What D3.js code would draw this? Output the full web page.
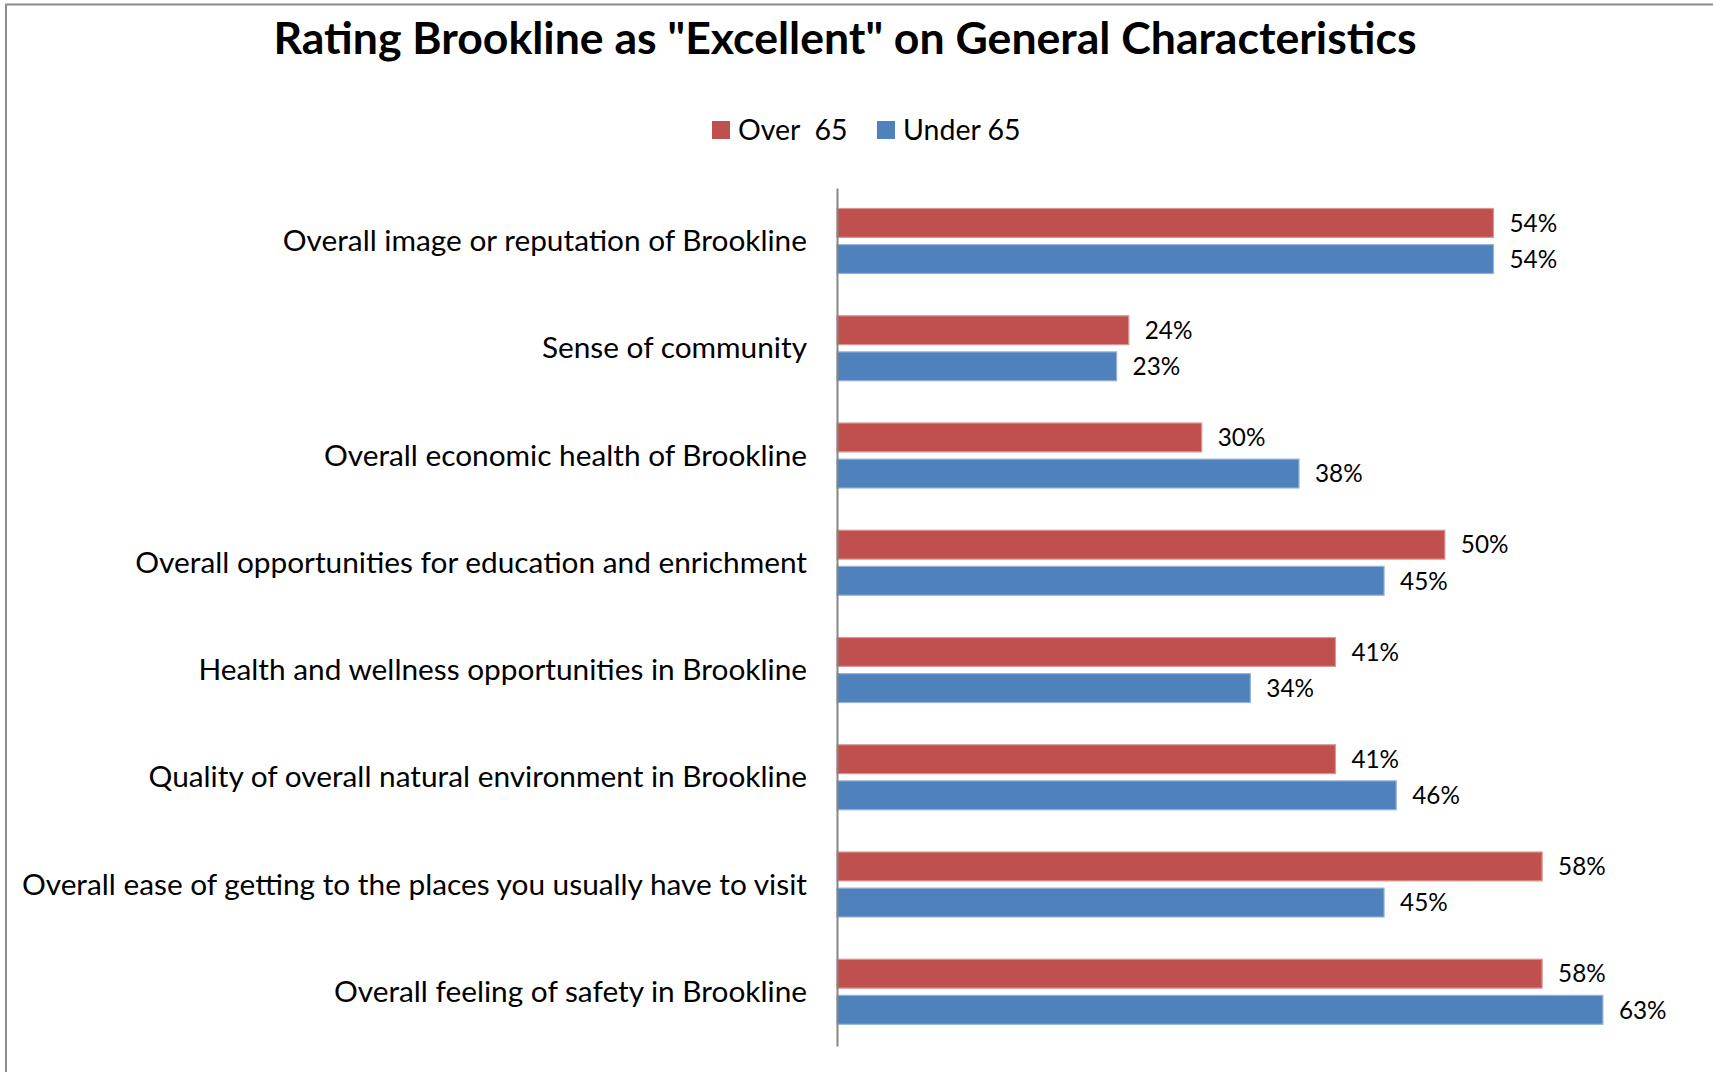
<!DOCTYPE html>
<html>
<head>
<meta charset="utf-8">
<script src="https://cdn.jsdelivr.net/npm/d3@7"></script>
<style>
  html, body { margin: 0; padding: 0; background: #fff; }
  svg { display: block; }
  text { font-family: Lato, "Noto Sans", sans-serif; fill: #000; }
</style>
</head>
<body>
<svg id="chart" width="1713" height="1072"></svg>
<script>
// Survey results: share rating each characteristic "Excellent", by age group
const categories = [
  "Overall image or reputation of Brookline",
  "Sense of community",
  "Overall economic health of Brookline",
  "Overall opportunities for education and enrichment",
  "Health and wellness opportunities in Brookline",
  "Quality of overall natural environment in Brookline",
  "Overall ease of getting to the places you usually have to visit",
  "Overall feeling of safety in Brookline"
];
const seriesNames = ["Over  65", "Under 65"];
const over65 = [0.54, 0.24, 0.30, 0.50, 0.41, 0.41, 0.58, 0.58];
const under65 = [0.54, 0.23, 0.38, 0.45, 0.34, 0.46, 0.45, 0.63];
const seriesValues = [over65, under65];
const colors = ["#C0504D", "#4F81BD"];
const strokes = ["#D99694", "#95B3D7"];

const svg = d3.select("#chart");

// chart area frame
svg.append("rect")
  .attr("x", 6).attr("y", 4.5)
  .attr("width", 1800).attr("height", 1200)
  .attr("fill", "#fff")
  .attr("stroke", "#8c8c8c").attr("stroke-width", 2);

// title
svg.append("text")
  .attr("x", 845).attr("y", 54)
  .attr("text-anchor", "middle")
  .style("font-weight", "bold")
  .style("font-size", "44.6px")
  .text('Rating Brookline as "Excellent" on General Characteristics');

// scales
const x = d3.scaleLinear().domain([0, 0.70]).range([837, 1688]);
const y0 = d3.scaleBand().domain(categories).range([188, 1046]).padding(0);
const y1 = d3.scaleBand().domain(seriesNames).range([20.5, 85.5]).paddingInner(0.2);

// legend
const legend = svg.append("g");
const legendX = [712, 877];
seriesNames.forEach((name, i) => {
  legend.append("rect")
    .attr("x", legendX[i]).attr("y", 121)
    .attr("width", 18).attr("height", 18)
    .attr("fill", colors[i]);
  legend.append("text")
    .attr("x", legendX[i] + 26).attr("y", 140)
    .style("font-size", "28.5px")
    .style("white-space", "pre")
    .text(name);
});

// bars
const groups = svg.append("g").selectAll("g")
  .data(categories)
  .join("g")
  .attr("transform", d => `translate(0,${y0(d)})`);

seriesNames.forEach((name, si) => {
  groups.append("rect")
    .attr("x", x(0))
    .attr("y", y1(name))
    .attr("width", (d, ci) => x(seriesValues[si][ci]) - x(0))
    .attr("height", y1.bandwidth())
    .attr("fill", colors[si])
    .attr("stroke", strokes[si])
    .attr("stroke-width", 1.2);

  groups.append("text")
    .attr("x", (d, ci) => x(seriesValues[si][ci]) + 16)
    .attr("y", y1(name) + y1.bandwidth() / 2)
    .attr("dy", "0.36em")
    .style("font-size", "24.3px")
    .text((d, ci) => d3.format(".0%")(seriesValues[si][ci]));
});

// category axis
const yAxis = d3.axisLeft(y0).tickSize(0).tickPadding(30);
const axisG = svg.append("g")
  .attr("transform", `translate(${x(0)},0)`)
  .call(yAxis);
axisG.select(".domain")
  .attr("stroke", "#868686").attr("stroke-width", 2);
axisG.selectAll(".tick text")
  .style("font-family", "Lato, 'Noto Sans', sans-serif")
  .style("font-size", "29.8px")
  .attr("fill", "#000");
</script>
</body>
</html>
